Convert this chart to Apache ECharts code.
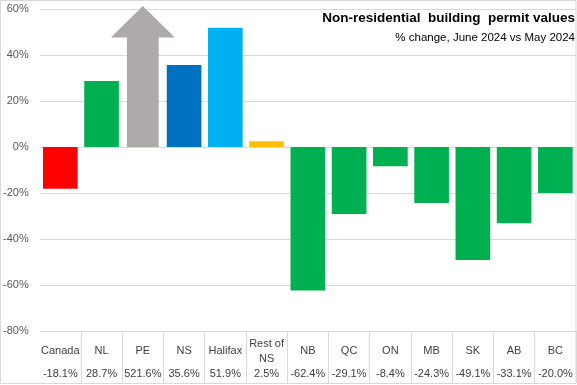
<!DOCTYPE html>
<html><head><meta charset="utf-8">
<script src="https://cdn.jsdelivr.net/npm/echarts@6/dist/echarts.min.js"></script>
<style>html,body{margin:0;padding:0;background:#fff}#c{width:577px;height:385px}</style>
</head><body><div id="c"></div>
<script>
const categories = ['Canada','NL','PE','NS','Halifax','Rest of\nNS','NB','QC','ON','MB','SK','AB','BC'];
const values = [-18.1, 28.7, 521.6, 35.6, 51.9, 2.5, -62.4, -29.1, -8.4, -24.3, -49.1, -33.1, -20.0];
const valueLabels = ['-18.1%','28.7%','521.6%','35.6%','51.9%','2.5%','-62.4%','-29.1%','-8.4%','-24.3%','-49.1%','-33.1%','-20.0%'];
const colors = ['#FF0000','#00B050','#AEAAAA','#0070C0','#00B0F0','#FFC000','#00B050','#00B050','#00B050','#00B050','#00B050','#00B050','#00B050'];
const yTicks = [-80, -60, -40, -20, 0, 20, 40, 60];
const yMin = -80, yMax = 60, yStep = 20;
const titleText = 'Non-residential  building  permit values';
const subtitleText = '% change, June 2024 vs May 2024';
const arrowIndex = 2;       // off-scale bar drawn as arrow
const arrowCap = 61.3;      // arrow tip just above the top of the scale

const font = 'Liberation Sans, Arial, sans-serif';
const chart = echarts.init(document.getElementById('c'), null, {renderer:'canvas'});
chart.setOption({
  animation:false,
  backgroundColor:'#fff',
  graphic:[
    {type:'rect', shape:{x:0.5,y:0.5,width:575.5,height:383}, style:{fill:'none', stroke:'#d9d9d9', lineWidth:1}, silent:true, z:-1},
    {type:'text', right:2, top:11, z:10, style:{text:titleText, fontFamily:font, fontSize:13.5, fontWeight:'bold', fill:'#000', textAlign:'right'}},
    {type:'text', right:2, top:32, z:10, style:{text:subtitleText, fontFamily:font, fontSize:11.5, fill:'#000', textAlign:'right'}}
  ],
  grid:{left:38, right:1, top:9, bottom:54},
  xAxis:[{
    type:'category', data:categories, position:'bottom',
    axisLine:{show:false, onZero:false},
    axisTick:{show:true, alignWithLabel:false, length:52, interval:(i)=> i!==0, lineStyle:{color:'#d9d9d9'}},
    axisLabel:{interval:0, margin:20, verticalAlign:'middle', fontFamily:font, fontSize:11, color:'#404040', lineHeight:15}
  },{
    type:'category', data:categories, position:'bottom',
    axisLine:{show:false, onZero:false}, axisTick:{show:false},
    axisLabel:{interval:0, margin:43, verticalAlign:'middle', fontFamily:font, fontSize:11, color:'#404040',
      formatter:(v, i)=> valueLabels[i]}
  }],
  yAxis:{
    type:'value', min:yMin, max:yMax, interval:yStep,
    axisLine:{show:false}, axisTick:{show:false},
    splitLine:{lineStyle:{color:'#d9d9d9'}},
    axisLabel:{margin:11, fontFamily:font, fontSize:11, color:'#595959',
      formatter:v=> yTicks.includes(v) ? v + '%' : ''}
  },
  series:[{
    type:'bar', barCategoryGap:'16%',
    data: values.map((v,i)=> i===arrowIndex ? '-' : {value:v, itemStyle:{color:colors[i]}})
  },{
    type:'custom', clip:false,
    data:[[arrowIndex, values[arrowIndex]]],
    renderItem:(params, api)=>{
      const idx = api.value(0);
      const v = Math.min(api.value(1), arrowCap);
      const base = api.coord([idx, 0]);
      const tip = api.coord([idx, v]);
      const band = api.size([1, 0])[0];
      const sw = band*0.385, hw = band*0.775, hh = 31.5;
      const cx = base[0];
      return {type:'polygon', shape:{points:[
        [cx-sw, base[1]], [cx-sw, tip[1]+hh], [cx-hw, tip[1]+hh], [cx, tip[1]],
        [cx+hw, tip[1]+hh], [cx+sw, tip[1]+hh], [cx+sw, base[1]]
      ]}, style:{fill:colors[idx]}};
    }
  }]
});
</script></body></html>
